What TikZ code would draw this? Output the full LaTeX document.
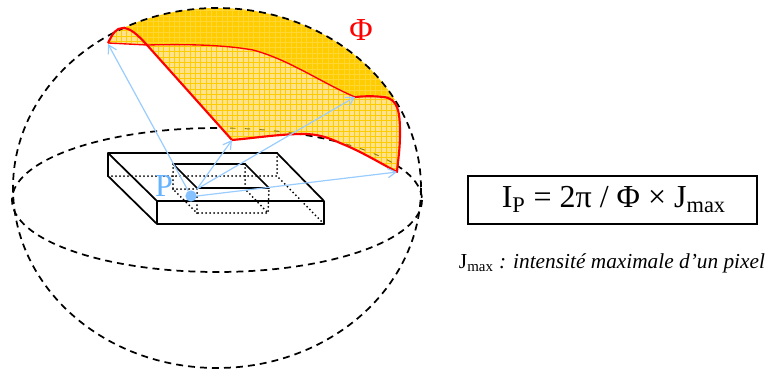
\documentclass[tikz,border=0pt]{standalone}
\usepackage{fontspec}
\setmainfont{Liberation Serif}
\usetikzlibrary{arrows.meta,positioning}
\definecolor{capyellow}{HTML}{FFCC00}
\definecolor{capgrid}{HTML}{FFD633}
\definecolor{patchyellow}{HTML}{FFE28A}
\definecolor{eqolive}{HTML}{8A7A10}
\definecolor{raylight}{HTML}{99CCFF}
\definecolor{pointblue}{HTML}{85C2FF}
\definecolor{labelblue}{HTML}{66B3FF}
\tikzset{
  dsphere/.style={draw, dash pattern=on 5.2pt off 3.8pt, line width=1.3pt},
  dedge/.style={draw, line width=1.3pt, line join=round},
  dhidden/.style={draw, line width=1.5pt, line cap=round, dash pattern=on 0pt off 3pt},
  dray/.style={-{Straight Barb[length=6pt,width=7pt]}, raylight, line width=0.9pt},
  dred/.style={red, line width=1.6pt, line join=round},
  dredthin/.style={red, line width=1pt},
  dformula/.style={draw, line width=1.2pt, minimum width=216.5pt, minimum height=36pt, inner sep=0pt, font=\fontsize{24}{26}\selectfont}
}
\newcommand{\patchpath}{(108,43) .. controls (113,33) and (116,28) .. (123,28) .. controls (130,28) and (137,34) .. (147,45)
  .. controls (190,44) and (225,45) .. (253,50) .. controls (290,60) and (320,82) .. (355,97)
  .. controls (365,96) and (375,96) .. (383,97) .. controls (398,98) and (400,112) .. (400,133)
  .. controls (400,150) and (398,160) .. (397,172) .. controls (375,160) and (358,150) .. (340,143)
  .. controls (325,136) and (315,134) .. (303,134) .. controls (280,134) and (255,138) .. (232,140)
  -- (147,45) -- (108,43) -- cycle}
\begin{document}
\begin{tikzpicture}[x=0.75pt,y=-0.75pt]
\useasboundingbox (0,0) rectangle (768,371);
% equator below the yellow
\draw[dsphere] (217,200) ellipse[x radius=205, y radius=72];
% yellow cap
\begin{scope}
\clip (217,188) ellipse[x radius=204, y radius=180];
\clip (123,28) -- (123,0) -- (395,0) -- (395,100) -- (355,97)
  .. controls (320,82) and (290,60) .. (253,50) .. controls (225,45) and (190,44) .. (147,45) -- cycle;
\fill[capyellow] (100,0) rectangle (420,110);
\foreach \xg in {100,105.3,...,420} \draw[capgrid, line width=0.4pt] (\xg,0) -- (\xg,110);
\foreach \yg in {0,5.3,...,110} \draw[capgrid, line width=0.4pt] (100,\yg) -- (420,\yg);
\end{scope}
% yellow patch
\begin{scope}
\clip \patchpath;
\fill[patchyellow] (100,20) rectangle (410,180);
\foreach \xg in {100,105.3,...,410} \draw[capyellow, line width=0.6pt] (\xg,20) -- (\xg,180);
\foreach \yg in {20,25.3,...,180} \draw[capyellow, line width=0.6pt] (100,\yg) -- (410,\yg);
\draw[eqolive, line width=0.7pt, dash pattern=on 4pt off 7pt] (217,200) ellipse[x radius=205, y radius=72];
\end{scope}
% sphere
\draw[dsphere] (217,188) ellipse[x radius=204, y radius=180];
% thin top line and red outline
\draw[dredthin] (108,43) -- (147,45) .. controls (190,44) and (225,45) .. (253,50) .. controls (290,60) and (320,82) .. (355,97);
\draw[dred] (355,97) .. controls (365,96) and (375,96) .. (383,97) .. controls (398,98) and (400,112) .. (400,133)
  .. controls (400,150) and (398,160) .. (397,172) .. controls (375,160) and (358,150) .. (340,143)
  .. controls (325,136) and (315,134) .. (303,134) .. controls (280,134) and (255,138) .. (232,140)
  -- (147,45) .. controls (137,34) and (130,28) .. (123,28) .. controls (116,28) and (113,33) .. (108,43);
% slab
\coordinate (a) at (108,153);
\coordinate (b) at (277,153);
\coordinate (c) at (324,201);
\coordinate (d) at (157,201);
\coordinate (e) at (108,176);
\coordinate (f) at (277,176);
\coordinate (g) at (324,224);
\coordinate (h) at (157,224);
\draw[dhidden] (e) -- (f) -- (g);
\draw[dhidden] (b) -- (f);
\draw[dhidden] (173,164) -- (173,189) -- (197,213) -- (268,213) -- (269,189);
\draw[dhidden] (245,164) -- (245,189) -- (268,213);
\draw[dhidden] (173,189) -- (197,189) -- (197,213);
\draw[dedge] (a) -- (b) -- (c) -- (d) -- cycle;
\draw[dedge] (a) -- (e) -- (h) -- (g) -- (c);
\draw[dedge] (d) -- (h);
\draw[dedge] (173,164) -- (245,164) -- (269,188) -- (197,188) -- cycle;
% rays
\node[circle, fill=pointblue, inner sep=0pt, minimum size=8.5pt] (ptP) at (191,196) {};
\coordinate (rayStart) at (197,189);
\coordinate (rayA) at (108,44);
\coordinate (rayB) at (232,140);
\coordinate (rayC) at (355,97);
\coordinate (rayD) at (397,172);
\draw[dray] (ptP) -- (rayA);
\draw[dray] (rayStart) -- (rayB);
\draw[dray] (rayStart) -- (rayC);
\draw[dray] (ptP.east) -- (rayD);
% labels
\node[labelblue, font=\fontsize{24}{26}\selectfont] (labP) at (164,186) {P};
\node[red, font=\fontsize{24}{26}\selectfont] (labPhi) at (361,30) {Φ};
\node[dformula] (formula) at (612.5,200) {\hspace*{2pt}I\textsubscript{P} = 2π / Φ × J\textsubscript{max}};
\node[font=\fontsize{16}{18}\selectfont] (legend) at (612,263) {J\textsubscript{max} \textit{: intensité maximale d’un pixel}};
\end{tikzpicture}
\end{document}
